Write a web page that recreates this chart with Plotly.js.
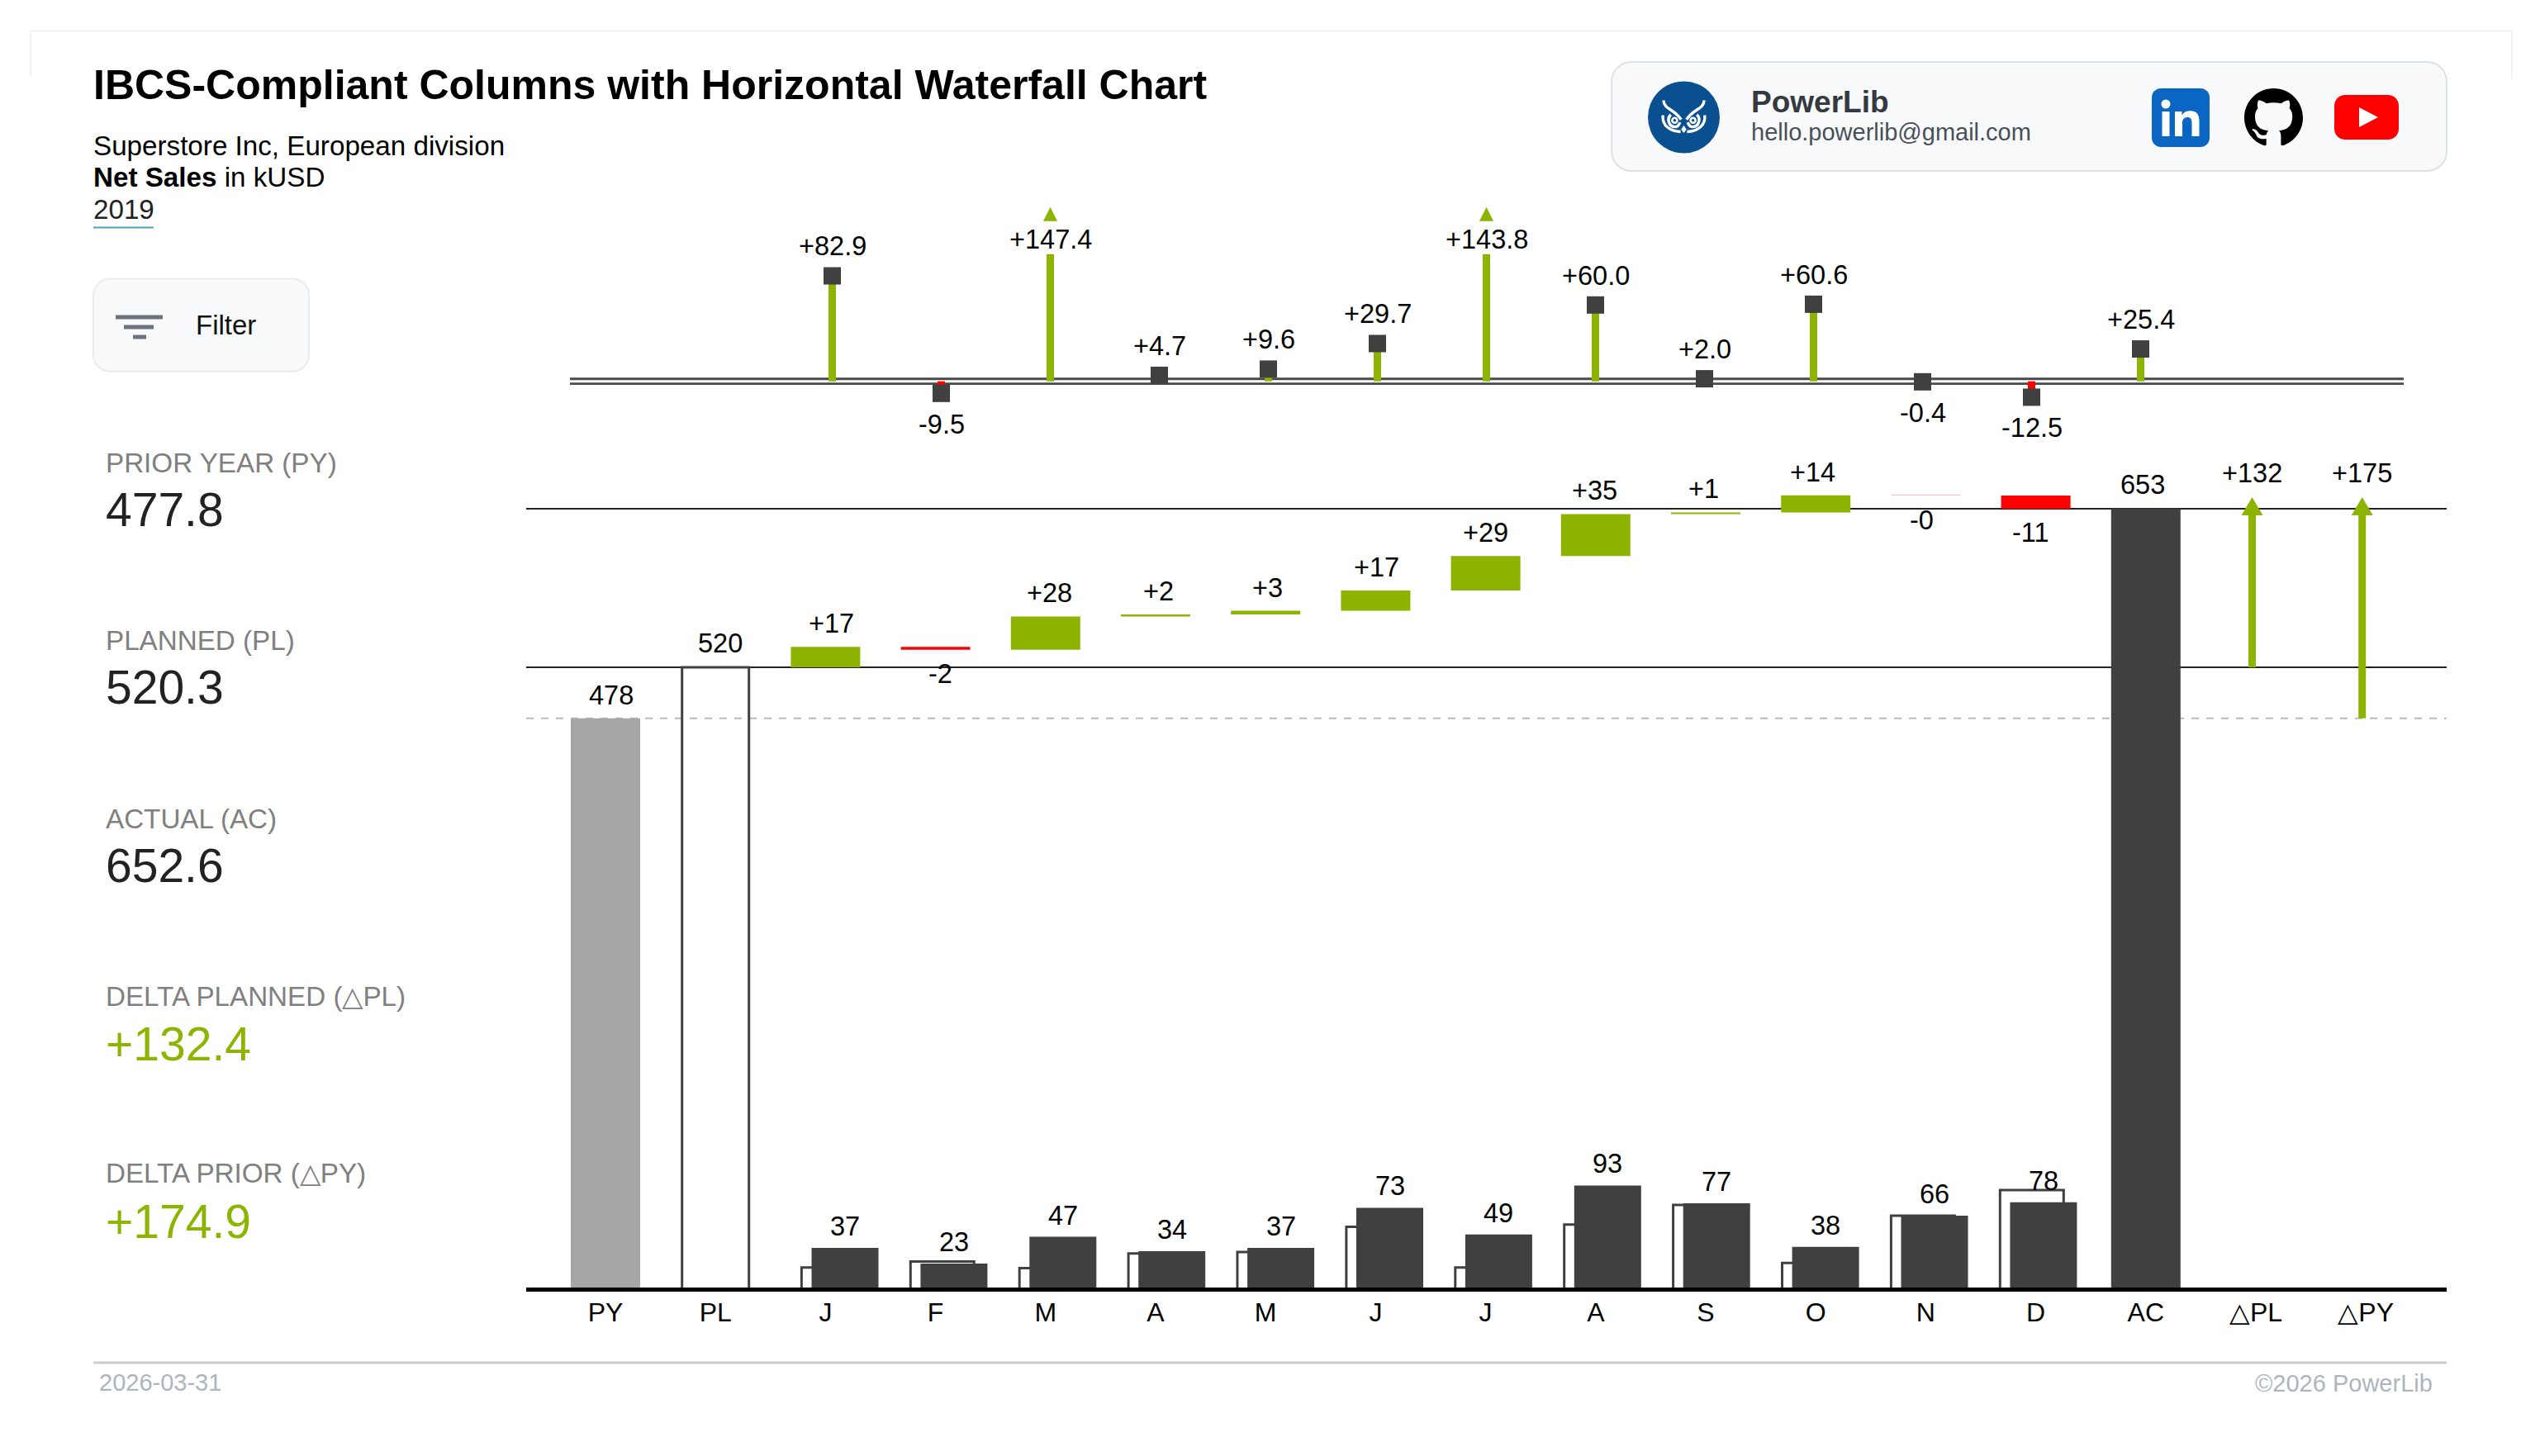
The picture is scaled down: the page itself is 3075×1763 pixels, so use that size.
<!DOCTYPE html>
<html>
<head>
<meta charset="utf-8">
<script src="https://cdn.plot.ly/plotly-3.0.1.min.js"></script>
<style>html,body{margin:0;padding:0;background:#fff}#chart{width:3075px;height:1763px}</style>
</head>
<body>
<div id="chart"></div>
<script>
// ---------- data ----------
const categories = ['PY','PL','J','F','M','A','M','J','J','A','S','O','N','D','AC','△PL','△PY'];
const priorYear = 477.8;
const planned = 520.3;
const actual = 652.6;
const deltaPlanned = 132.4;
const deltaPrior = 174.9;
const monthlyActual = [37,23,47,34,37,73,49,93,77,38,66,78];
const monthlyPlan = [19.5,24.8,18.8,32,33.3,56,19.5,58,75.5,23.5,66,88.8];
const monthlyDelta = [17.1,-2.4,27.8,1.6,3.1,17,28.7,35,1.4,14.2,-0.2,-10.9];
const priorDelta = [82.9,-9.5,147.4,4.7,9.6,29.7,143.8,60.0,2.0,60.6,-0.4,-12.5,25.4];
const kpiLabels = ['PRIOR YEAR (PY)','PLANNED (PL)','ACTUAL (AC)','DELTA PLANNED (△PL)','DELTA PRIOR (△PY)'];
const kpiValues = ['477.8','520.3','652.6','+132.4','+174.9'];

// ---------- page geometry ----------
const W = 3075, H = 1763;
const plotL = 637, plotR = 2962, plotT = 230, plotB = 1559;
const px = x => x / W;
const py = y => 1 - y / H;

// the picture uses three horizontal and three vertical scales
const catStep = 133.2, colStep = 131.9, stemStep = 132;
const catX0 = 733, colX0 = 1023, stemX0 = 1007.5;
const yScale = 1.451, colScale = 1.35, stemScale = 1.54;
const yZeroPx = 1563, colZeroPx = 1561, stemZeroPx = 461.7;

const GREEN = '#8cb400', RED = '#ff0000', DARK = '#404040', FONT = '"Liberation Sans", Arial, sans-serif';
const colorOf = v => v >= 0 ? GREEN : RED;
const signed = (v, d) => (v < 0 ? '-' : '+') + Math.abs(v).toFixed(d);

const stemCap = 100;
const stemShown = priorDelta.map(v => Math.min(v, stemCap));
const stemIdx = priorDelta.map((_, i) => i);
const monthIdx = monthlyActual.map((_, i) => i);

let running = planned;
const wfStart = monthlyDelta.map(d => { const s = running; running += d; return s; });

function tri(xc, yBase, yTip, halfW, xaxis, yaxis) {
  return {type:'scatter', mode:'lines', x:[xc-halfW, xc+halfW, xc, xc-halfW], y:[yBase,yBase,yTip,yBase],
    xaxis, yaxis, fill:'toself', fillcolor:GREEN, line:{width:0,color:GREEN}, hoverinfo:'skip', showlegend:false};
}
const arrowOff = -4.5 / catStep;

const traces = [
  // totals
  {type:'bar', x:[0], y:[priorYear], width:[84/catStep], marker:{color:'#a6a6a6'}, xaxis:'x', yaxis:'y'},
  {type:'bar', x:[1], y:[planned], width:[81/catStep], marker:{color:'rgba(255,255,255,0)', line:{color:DARK,width:3}}, xaxis:'x', yaxis:'y'},
  {type:'bar', x:[14], y:[actual], width:[84/catStep], marker:{color:DARK}, xaxis:'x', yaxis:'y'},
  // waterfall
  {type:'bar', x:monthIdx.map(i => i+2), y:monthlyDelta, base:wfStart, width:84/catStep,
    marker:{color:monthlyDelta.map(colorOf)}, xaxis:'x', yaxis:'y'},
  // delta arrows
  {type:'scatter', mode:'lines', x:[15+arrowOff,15+arrowOff], y:[planned, actual-8/yScale], line:{color:GREEN,width:9}, xaxis:'x', yaxis:'y'},
  {type:'scatter', mode:'lines', x:[16+arrowOff,16+arrowOff], y:[priorYear, actual-8/yScale], line:{color:GREEN,width:9}, xaxis:'x', yaxis:'y'},
  tri(15+arrowOff, actual-8/yScale, actual+14/yScale, 13/catStep, 'x', 'y'),
  tri(16+arrowOff, actual-8/yScale, actual+14/yScale, 13/catStep, 'x', 'y'),
  // monthly columns
  {type:'bar', x:monthIdx.map(i => i-0.107), y:monthlyPlan, width:77/colStep,
    marker:{color:'#ffffff', line:{color:DARK,width:3}}, xaxis:'x2', yaxis:'y2'},
  {type:'bar', x:monthIdx, y:monthlyActual, width:81/colStep, marker:{color:DARK}, xaxis:'x2', yaxis:'y2'},
  // top delta lollipops
  {type:'bar', x:stemIdx, y:stemShown, width:9/stemStep, marker:{color:priorDelta.map(colorOf)}, xaxis:'x3', yaxis:'y3'},
  {type:'scatter', mode:'markers', x:stemIdx.filter(i => priorDelta[i] <= stemCap), y:priorDelta.filter(v => v <= stemCap),
    marker:{symbol:'square', size:21, color:DARK, line:{width:0}}, xaxis:'x3', yaxis:'y3'}
];
stemIdx.filter(i => priorDelta[i] > stemCap).forEach(i => {
  traces.push(tri(i, stemCap+40/stemScale, stemCap+57/stemScale, 8.5/stemStep, 'x3', 'y3'));
});

// ---------- annotations ----------
const ann = [];
const txt = (x, y, text, size, color, anchor) => ann.push({xref:'paper', yref:'paper', x:px(x), y:py(y), text, showarrow:false,
  xanchor:anchor||'left', yanchor:'middle', align:anchor||'left', font:{family:FONT,size,color}, borderpad:0, borderwidth:0});
txt(113,176,'Superstore Inc, European division',33.2,'#000');
txt(113,214,'<b>Net Sales</b> in kUSD',33.2,'#000');
txt(113,254,'2019',33.2,'#222');
txt(237,393,'Filter',33,'#111');
txt(2119.5,123,'<b>PowerLib</b>',37,'#343a40');
txt(2119.5,160.5,'hello.powerlib@gmail.com',29,'#495057');
txt(120,1674,'2026-03-31',29,'#adb5bd');
txt(2945,1675,'©2026 PowerLib',29,'#adb5bd','right');
const kpiLabelY = [560.4,776,991,1206.4,1420.7], kpiValueY = [616.8,832,1048,1263.6,1478.6];
kpiLabels.forEach((t,i) => {
  txt(127.5,kpiLabelY[i],t,33.2,'#808080');
  txt(127.5,kpiValueY[i],kpiValues[i],57,i>2?GREEN:'#222');
});
const dataLabel = (xaxis, yaxis, x, y, text, yshift, xshift) => ann.push({xref:xaxis, yref:yaxis, x, y, text, showarrow:false,
  xanchor:'center', yanchor:'middle', yshift, xshift:xshift||0, font:{family:FONT,size:32.5,color:'#000'}});
dataLabel('x','y',0,priorYear,Math.round(priorYear).toString(),28,7);
dataLabel('x','y',1,planned,Math.round(planned).toString(),29,5.5);
dataLabel('x','y',14,actual,Math.round(actual).toString(),29,-4);
dataLabel('x','y',15+arrowOff,actual,signed(deltaPlanned,0),43,0);
dataLabel('x','y',16+arrowOff,actual,signed(deltaPrior,0),43,0);
monthlyDelta.forEach((d,i) => {
  const s = wfStart[i], e = s + d;
  if (d >= 0) dataLabel('x3','y',i,e,signed(d,0),28,-1.5);
  else dataLabel('x3','y',i,e,signed(d,0),-29.5,-1.5);
});
monthlyActual.forEach((v,i) => dataLabel('x2','y2',i,v,String(v),26));
priorDelta.forEach((v,i) => dataLabel('x3','y3',i,stemShown[i],signed(v,1), v>stemCap?18:(v>=0?35.7:-37.5)));

// ---------- decoration ----------
const hline = (x0,x1,y,color,width) => ({type:'line',xref:'paper',yref:'paper',x0:px(x0),x1:px(x1),y0:py(y),y1:py(y),line:{color,width}});
const vline = (x,y0,y1,color,width) => ({type:'line',xref:'paper',yref:'paper',x0:px(x),x1:px(x),y0:py(y0),y1:py(y1),line:{color,width}});
const rrectD = (x0,y0,x1,y1,r) => {const k=r*0.45;return `M${x0+r} ${y0}L${x1-r} ${y0}C${x1-k} ${y0} ${x1} ${y0+k} ${x1} ${y0+r}L${x1} ${y1-r}C${x1} ${y1-k} ${x1-k} ${y1} ${x1-r} ${y1}L${x0+r} ${y1}C${x0+k} ${y1} ${x0} ${y1-k} ${x0} ${y1-r}L${x0} ${y0+r}C${x0} ${y0+k} ${x0+k} ${y0} ${x0+r} ${y0}Z`;};
// turns an icon path (any of M L H V C S Z, absolute or relative) into an absolute path in paper coordinates
function iconPath(d, ox, oy, sx, sy) {
  const tok = d.match(/[a-zA-Z]|-?\d*\.?\d+/g);
  const P = (x,y) => px(ox+x*sx)+','+py(oy+y*sy);
  let i=0,cmd='',cx=0,cy=0,lx=0,ly=0,sxp=0,syp=0,out='';
  const n=()=>Number(tok[i++]);
  while(i<tok.length){
    if(/[a-zA-Z]/.test(tok[i])) cmd=tok[i++];
    const rel=cmd===cmd.toLowerCase(), C=cmd.toUpperCase();
    const bx=rel?cx:0, by=rel?cy:0;
    if(C==='Z'){out+='Z';cx=sxp;cy=syp;lx=cx;ly=cy;continue;}
    if(C==='M'){cx=bx+n();cy=by+n();sxp=cx;syp=cy;lx=cx;ly=cy;out+='M'+P(cx,cy);cmd=rel?'l':'L';continue;}
    if(C==='L'){cx=bx+n();cy=by+n();lx=cx;ly=cy;out+='L'+P(cx,cy);continue;}
    if(C==='H'){cx=bx+n();lx=cx;ly=cy;out+='L'+P(cx,cy);continue;}
    if(C==='V'){cy=by+n();lx=cx;ly=cy;out+='L'+P(cx,cy);continue;}
    let x1,y1;
    if(C==='C'){x1=bx+n();y1=by+n();}else{x1=2*cx-lx;y1=2*cy-ly;}
    const x2=bx+n(),y2=by+n(),x=bx+n(),y=by+n();
    out+='C'+P(x1,y1)+' '+P(x2,y2)+' '+P(x,y);
    lx=x2;ly=y2;cx=x;cy=y;
  }
  return out;
}
const icon = (d,ox,oy,sx,sy,fill,stroke,sw) => ({type:'path',xref:'paper',yref:'paper',path:iconPath(d,ox,oy,sx,sy),
  fillcolor:fill||'rgba(0,0,0,0)', line:{color:stroke||'rgba(0,0,0,0)',width:sw||0}});
const rrect = (x0,y0,x1,y1,r,fill,stroke,sw) => icon(rrectD(x0,y0,x1,y1,r),0,0,1,1,fill,stroke,sw);
const disc = (cx,cy,r,fill,stroke,sw) => ({type:'circle',xref:'paper',yref:'paper',x0:px(cx-r),x1:px(cx+r),y0:py(cy+r),y1:py(cy-r),
  fillcolor:fill,line:{color:stroke||'rgba(0,0,0,0)',width:sw||0}});
const refLine = (v,color,width,dash) => ({type:'line',xref:'paper',yref:'y',x0:px(plotL),x1:px(plotR),y0:v,y1:v,layer:'below',line:{color,width,dash:dash||'solid'}});
const stemLine = v => ({type:'line',xref:'paper',yref:'y3',x0:px(690),x1:px(2910),y0:v,y1:v,layer:'below',line:{color:'#4a4a4a',width:2.8}});

// owl logo: drawn on a 266-unit square placed over the round badge
const owlS = 87/266, owlX = 1995-27*owlS, owlY = 98-25*owlS;
const owlLines = ['M85 97C86 130 125 128 150 168','M235 97C234 130 195 128 170 168',
  'M83 152C78 190 110 212 148 213','M237 152C242 190 210 212 172 213',
  'M112 150C95 165 105 195 128 195C136 195 142 188 146 178','M208 150C225 165 215 195 192 195C184 195 178 188 174 178'];
const owlShapes = [disc(2038.5,142,43.5,'#0a4f8f')]
  .concat(owlLines.map(d => icon(d,owlX,owlY,owlS,owlS,null,'#ffffff',3.4)))
  .concat([disc(owlX+126*owlS,owlY+171*owlS,3,'rgba(0,0,0,0)','#ffffff',2.6), disc(owlX+194*owlS,owlY+171*owlS,3,'rgba(0,0,0,0)','#ffffff',2.6),
           icon('M160 190L170 205L160 218L150 205Z',owlX,owlY,owlS,owlS,'#ffffff')]);
const liX = 2605, liY = 107;
const linkedinShapes = [rrect(liX,liY,liX+70,liY+71,11,'#0a66c2'), disc(liX+17,liY+19,5.5,'#ffffff'),
  rrect(liX+12.5,liY+28,liX+21.5,liY+58,0.01,'#ffffff'),
  icon('M28 28h8.5v4.5C38.5 29 42 27.3 46.5 27.3 55 27.3 57.5 32.5 57.5 40V58H48.5V42C48.5 37.5 47 35 43.2 35 39 35 37 38 37 42V58H28Z',liX,liY,1,1,'#ffffff')];
const githubD = 'M8 0C3.58 0 0 3.58 0 8c0 3.54 2.29 6.53 5.47 7.59.4.07.55-.17.55-.38 0-.19-.01-.82-.01-1.49-2.01.37-2.53-.49-2.69-.94-.09-.23-.48-.94-.82-1.13-.28-.15-.68-.52-.01-.53.63-.01 1.08.58 1.23.82.72 1.21 1.87.87 2.33.66.07-.52.28-.87.51-1.07-1.78-.2-3.64-.89-3.64-3.95 0-.87.31-1.59.82-2.15-.08-.2-.36-1.02.08-2.12 0 0 .67-.21 2.2.82.64-.18 1.32-.27 2-.27.68 0 1.36.09 2 .27 1.53-1.04 2.2-.82 2.2-.82.44 1.1.16 1.92.08 2.12.51.56.82 1.27.82 2.15 0 3.07-1.87 3.75-3.65 3.95.29.25.54.73.54 1.48 0 1.07-.01 1.93-.01 2.2 0 .21.15.46.55.38C13.71 14.53 16 11.54 16 8c0-4.42-3.58-8-8-8z';
const ytX = 2826, ytY = 115;
const youtubeShapes = [rrect(ytX,ytY,ytX+78,ytY+54,13,'#ff0000'), icon('M30 15L53 27L30 39Z',ytX,ytY,1,1,'#ffffff')];

const shapes = [
  hline(37,3041,37.5,'#eeeeee',1.5), vline(37,37,92,'#eeeeee',1.5), vline(3041,37,95,'#eeeeee',1.5),
  hline(113,186,275.5,'#4fa3b5',2),
  rrect(113,337.5,374,449.7,20,'#f8f9fa','#e9ecef',2),
  hline(140,197,384,'#6c757d',5), hline(150,186,396,'#6c757d',5), hline(161,177,408,'#6c757d',5),
  rrect(1951,75,2962,207,24,'#f8f9fa','#dee2e6',2),
  hline(113,2962,1650,'#cccccc',3),
  refLine(actual,'#222222',2), refLine(planned,'#222222',2), refLine(priorYear,'#bbbbbb',2,'dash'),
  stemLine(1.9), stemLine(-1.9)
].concat(owlShapes, linkedinShapes, [icon(githubD,2717,107,71/16,71/16,'#000000')], youtubeShapes);

const hidden = extra => Object.assign({visible:false, fixedrange:true, showgrid:false, zeroline:false}, extra);
const layout = {
  width:W, height:H, margin:{l:0,r:0,t:0,b:0,pad:0}, paper_bgcolor:'#fff', plot_bgcolor:'rgba(0,0,0,0)',
  title:{text:'<b>IBCS-Compliant Columns with Horizontal Waterfall Chart</b>', x:px(113), xref:'paper', xanchor:'left', y:py(102), yref:'paper', yanchor:'middle', font:{family:FONT,size:50,color:'#000'}},
  showlegend:false, barmode:'overlay', hovermode:false,
  font:{family:FONT},
  xaxis:{domain:[px(plotL),px(plotR)], range:[(plotL-catX0)/catStep,(plotR-catX0)/catStep], tickmode:'array',
    tickvals:categories.map((_,i)=>i), ticktext:categories, tickfont:{family:FONT,size:32,color:'#000'},
    ticks:'outside', ticklen:2, tickcolor:'rgba(0,0,0,0)', ticklabelstandoff:-4, showgrid:false, zeroline:false, showline:true, linecolor:'#000', linewidth:4.5, fixedrange:true, anchor:'y', tickangle:0},
  yaxis:hidden({domain:[py(plotB),py(plotT)], range:[(yZeroPx-plotB)/yScale,(yZeroPx-plotT)/yScale], anchor:'x'}),
  xaxis2:hidden({overlaying:'x', range:[(plotL-colX0)/colStep,(plotR-colX0)/colStep], anchor:'y'}),
  yaxis2:hidden({overlaying:'y', range:[(colZeroPx-plotB)/colScale,(colZeroPx-plotT)/colScale], anchor:'x'}),
  xaxis3:hidden({overlaying:'x', range:[(plotL-stemX0)/stemStep,(plotR-stemX0)/stemStep], anchor:'y'}),
  yaxis3:hidden({overlaying:'y', range:[(stemZeroPx-plotB)/stemScale,(stemZeroPx-plotT)/stemScale], anchor:'x'}),
  annotations:ann, shapes
};
Plotly.newPlot('chart', traces, layout, {displayModeBar:false, staticPlot:true});
</script>
</body>
</html>
